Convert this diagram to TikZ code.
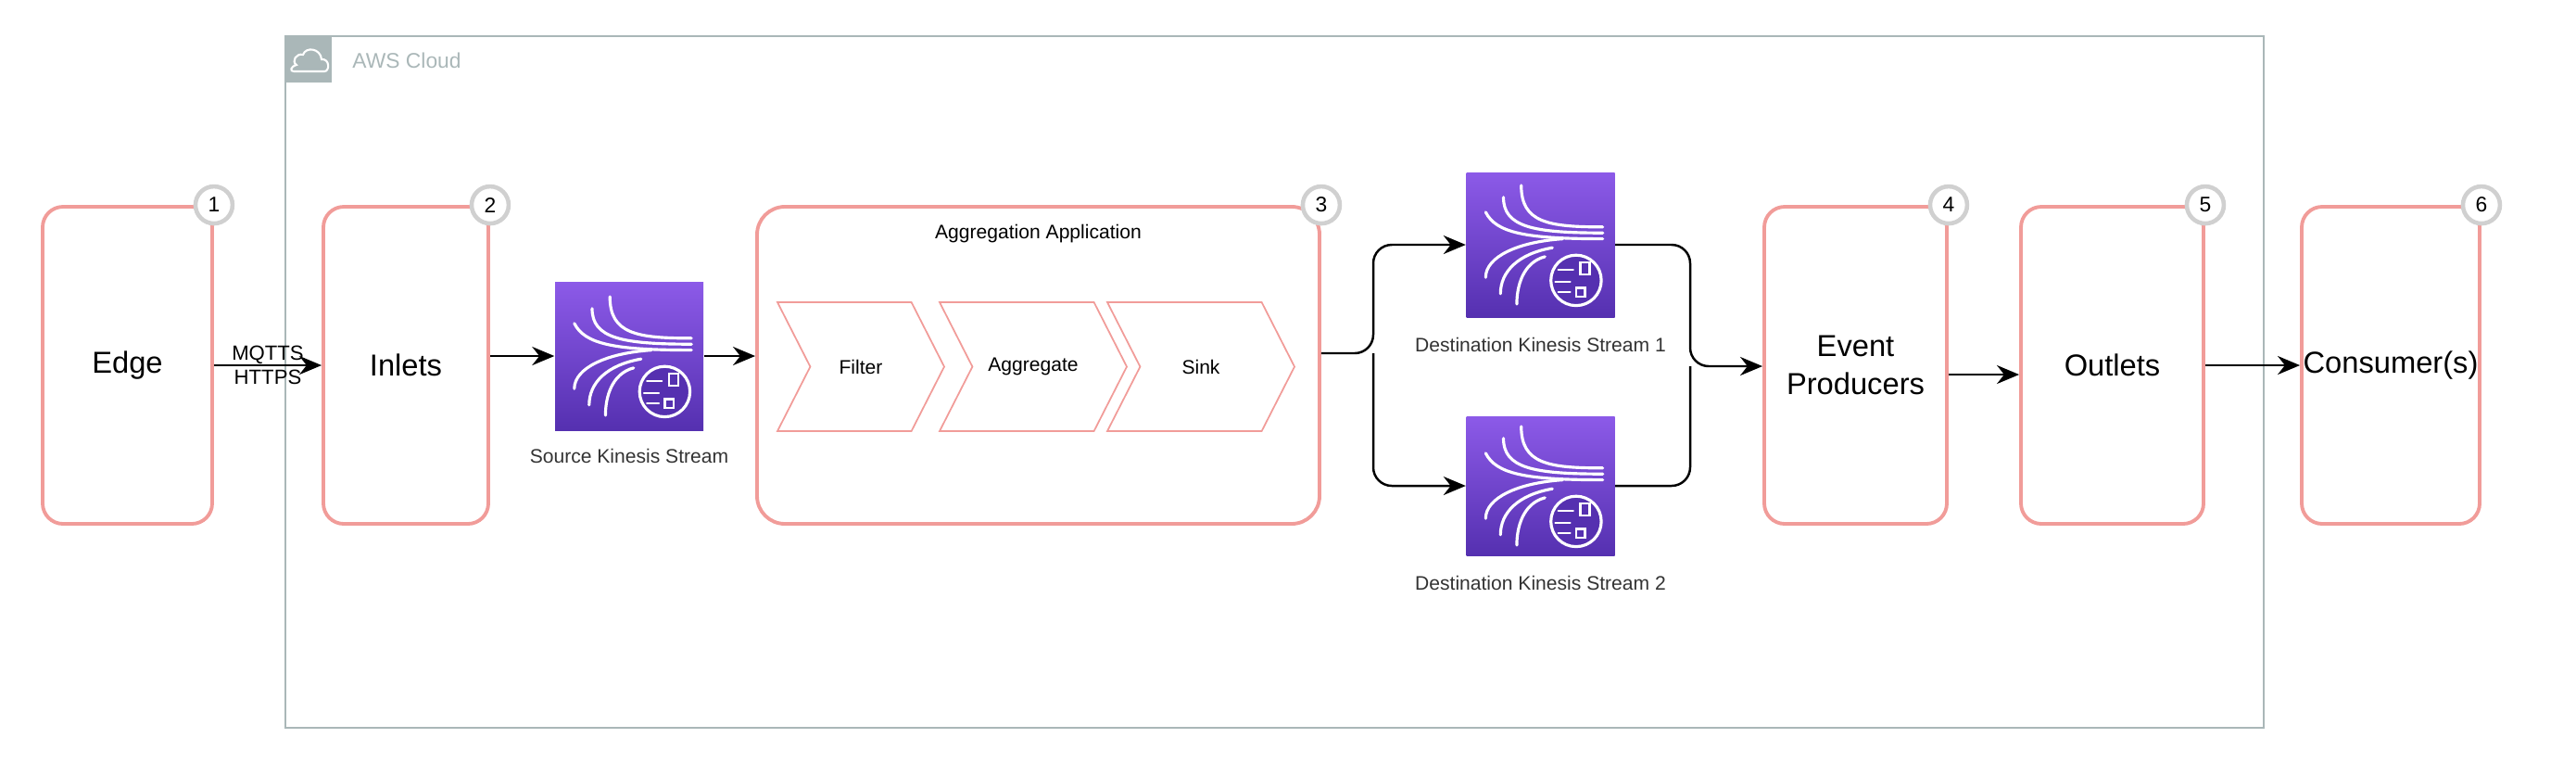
\documentclass[tikz,border=0pt]{standalone}
\usepackage{fontspec}
\setmainfont{Liberation Sans}
\usetikzlibrary{arrows.meta, shapes.symbols, positioning}
\definecolor{boxred}{HTML}{F19C99}
\definecolor{awsgray}{HTML}{AAB7B8}
\definecolor{kinTop}{HTML}{8C5AE8}
\definecolor{kinBot}{HTML}{5530B0}
\definecolor{numgray}{HTML}{D0D0D0}

\begin{document}
\begin{tikzpicture}[
    stage/.style={draw=boxred, line width=1.1pt, rounded corners=0.22cm, minimum width=#1, minimum height=3.42cm, inner sep=0pt, font=\fontsize{9.3}{11.5}\selectfont, align=center},
    stage/.default=1.8cm,
    num/.style={circle, draw=numgray, line width=1.3pt, fill=white, minimum size=0.4cm, inner sep=0pt, font=\fontsize{6.5}{7}\selectfont},
    chev/.style={signal, signal from=west, signal to=east, signal pointer angle=126, draw=boxred, line width=0.5pt, minimum width=1.8cm, minimum height=1.39cm, inner sep=0pt, font=\fontsize{6}{7}\selectfont},
    kinesis/.style={rectangle, minimum width=1.6cm, minimum height=1.6cm, inner sep=0pt, top color=kinTop, bottom color=kinBot},
    lbl/.style={font=\fontsize{6}{7}\selectfont, text=black!80},
    flow/.style={-{Stealth[length=2.4mm,width=2mm]}, line width=0.7pt},
    pics/kinicon/.style={code={
        \begin{scope}[white, line width=0.9pt, line cap=round, scale=1.6]
          \draw (-0.13,0.4) .. controls (-0.13,0.15) and (0.05,0.12) .. (0.42,0.12);
          \draw (-0.25,0.32) .. controls (-0.25,0.12) and (-0.05,0.08) .. (0.42,0.08);
          \draw (-0.37,0.22) .. controls (-0.3,0.08) and (-0.1,0.04) .. (0.42,0.04);
          \draw (0.15,0.04) .. controls (-0.15,0.02) and (-0.37,-0.08) .. (-0.37,-0.22);
          \draw (0.08,-0.02) .. controls (-0.15,-0.06) and (-0.27,-0.18) .. (-0.27,-0.33);
          \draw (0.03,-0.08) .. controls (-0.12,-0.12) and (-0.16,-0.28) .. (-0.16,-0.4);
          \draw[fill=kinBot] (0.24,-0.24) circle (0.17);
          \draw[line width=0.7pt] (0.12,-0.17) -- (0.22,-0.17) (0.27,-0.2) rectangle (0.33,-0.12)
            (0.1,-0.25) -- (0.2,-0.25) (0.12,-0.32) -- (0.2,-0.32) (0.24,-0.35) rectangle (0.3,-0.29);
        \end{scope}}}
  ]
  \useasboundingbox (0,0) rectangle (27.8,-8.36);

  % AWS cloud group
  \draw[awsgray, line width=0.8pt] (3.08,-0.39) rectangle (24.43,-7.85);
  \fill[awsgray] (3.08,-0.39) rectangle (3.58,-0.89);
  \draw[white, line width=0.6pt] (3.17,-0.77) -- (3.5,-0.77) .. controls (3.56,-0.77) and (3.56,-0.63) .. (3.47,-0.64)
     .. controls (3.46,-0.52) and (3.3,-0.5) .. (3.27,-0.59) .. controls (3.2,-0.57) and (3.14,-0.66) .. (3.2,-0.7)
     .. controls (3.13,-0.72) and (3.13,-0.77) .. (3.17,-0.77);
  \node[anchor=west, text=awsgray, font=\fontsize{6.5}{7}\selectfont] (aws) at (3.68,-0.65) {AWS Cloud};

  % stages
  \node[stage=1.83cm] (edge) at (1.375,-3.94) {Edge};
  \node[stage=1.78cm] (inl) at (4.38,-3.94) {Inlets};
  \node[stage=6.07cm, rounded corners=0.3cm] (agg) at (11.205,-3.94) {};
  \node[font=\fontsize{6}{7}\selectfont] (aggt) at (11.205,-2.52) {Aggregation Application};
  \node[stage=1.97cm] (ep) at (20.025,-3.94) {Event\\Producers};
  \node[stage=1.97cm] (outl) at (22.795,-3.94) {Outlets};
  \node[stage=1.92cm] (cons) at (25.8,-3.94) {Consumer(s)};

  % numbers
  \node[num] (n1) at (edge.north east) {1};
  \node[num] (n2) at (inl.north east) {2};
  \node[num] (n3) at (agg.north east) {3};
  \node[num] (n4) at (ep.north east) {4};
  \node[num] (n5) at (outl.north east) {5};
  \node[num] (n6) at (cons.north east) {6};

  % aggregation steps
  \node[chev] (filt) at (9.29,-3.955) {Filter};
  \node[chev, minimum width=2.02cm] (aggr) at (11.15,-3.955) {Aggregate};
  \node[chev, minimum width=2.02cm] (sink) at (12.96,-3.955) {Sink};

  % kinesis streams
  \node[kinesis] (src) at (6.79,-3.84) {};
  \pic at (src) {kinicon};
  \node[lbl] (srcl) at (6.79,-4.92) {Source Kinesis Stream};
  \node[kinesis, minimum height=1.56cm] (d1) at (16.625,-2.64) {};
  \pic at (d1) {kinicon};
  \node[lbl] (d1l) at (16.625,-3.72) {Destination Kinesis Stream 1};
  \node[kinesis, minimum height=1.5cm] (d2) at (16.625,-5.24) {};
  \pic at (d2) {kinicon};
  \node[lbl] (d2l) at (16.625,-6.29) {Destination Kinesis Stream 2};

  % connectors
  \draw[flow] (edge.east|-0,-3.94) -- node[font=\fontsize{6.3}{7.3}\selectfont, align=center, inner sep=1pt] (proto) {MQTTS\\HTTPS} (inl.west|-0,-3.94);
  \draw[flow] (inl.east|-src.west) -- (src.west);
  \draw[flow] (src.east) -- (agg.west|-src.east);
  \coordinate (fork) at (14.82,-3.81);
  \coordinate (merge) at (18.24,-3.95);
  \draw[flow, rounded corners=0.2cm] (agg.east|-fork) -- (fork) |- (d1.west);
  \draw[flow, rounded corners=0.2cm] (fork) |- (d2.west);
  \draw[flow, rounded corners=0.2cm] (d1.east) -| (merge) -- (ep.west|-merge);
  \draw[line width=0.7pt, rounded corners=0.2cm] (d2.east) -| (merge);
  \draw[flow] (ep.east|-0,-4.04) -- (outl.west|-0,-4.04);
  \draw[flow] (outl.east|-0,-3.94) -- (cons.west|-0,-3.94);
\end{tikzpicture}
\end{document}
